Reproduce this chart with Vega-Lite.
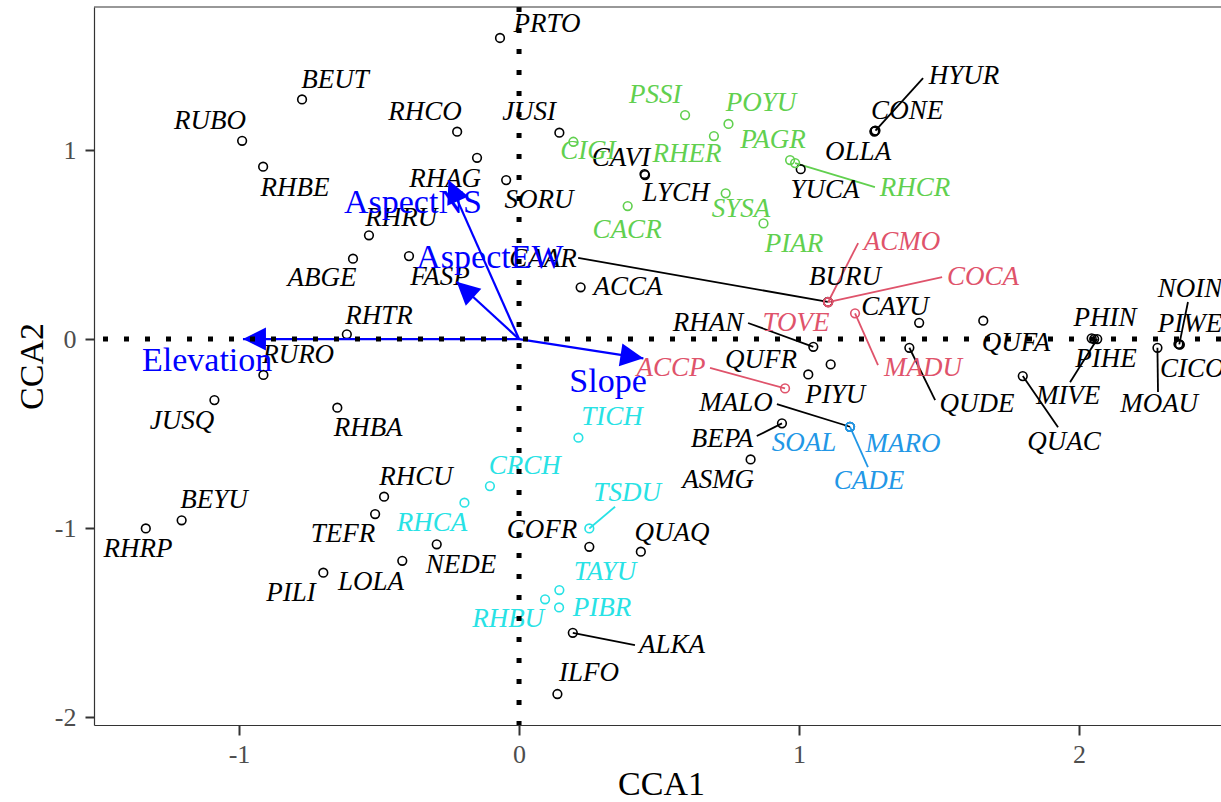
{
  "$schema": "https://vega.github.io/schema/vega-lite/v6.json",
  "autosize": {"type": "none"},
  "padding": {"left": 94, "top": 7, "right": 0, "bottom": 77},
  "width": 1127,
  "height": 718,
  "background": "white",
  "config": {
    "view": {"stroke": null},
    "axis": {
      "grid": false,
      "domainColor": "#333333",
      "domainWidth": 1.2,
      "tickColor": "#333333",
      "tickWidth": 2,
      "labelFont": "Liberation Serif",
      "labelFontSize": 26,
      "labelColor": "#4D4D4D",
      "titleFont": "Liberation Serif",
      "titleFontSize": 34,
      "titleFontWeight": "normal",
      "titleColor": "#000000"
    }
  },
  "datasets": {
    "sp": [
      {"n":"PRTO","g":"k","x":-0.068,"y":1.593,"lx":0.100,"ly":1.667},
      {"n":"BEUT","g":"k","x":-0.775,"y":1.268,"lx":-0.657,"ly":1.370},
      {"n":"RUBO","g":"k","x":-0.989,"y":1.049,"lx":-1.104,"ly":1.153},
      {"n":"RHBE","g":"k","x":-0.914,"y":0.912,"lx":-0.800,"ly":0.799},
      {"n":"RHCO","g":"k","x":-0.221,"y":1.097,"lx":-0.336,"ly":1.201},
      {"n":"RHAG","g":"k","x":-0.150,"y":0.959,"lx":-0.264,"ly":0.847},
      {"n":"SORU","g":"k","x":-0.046,"y":0.841,"lx":0.071,"ly":0.735},
      {"n":"RHRU","g":"k","x":-0.536,"y":0.549,"lx":-0.421,"ly":0.640},
      {"n":"ABGE","g":"k","x":-0.593,"y":0.425,"lx":-0.704,"ly":0.323},
      {"n":"FASP","g":"k","x":-0.393,"y":0.439,"lx":-0.282,"ly":0.328},
      {"n":"RHTR","g":"k","x":-0.615,"y":0.025,"lx":-0.500,"ly":0.122},
      {"n":"RURO","g":"k","x":-0.913,"y":-0.190,"lx":-0.789,"ly":-0.085},
      {"n":"JUSI","g":"k","x":0.144,"y":1.092,"lx":0.036,"ly":1.201},
      {"n":"CAVI","g":"k","x":0.448,"y":0.873,"lx":0.364,"ly":0.958},
      {"n":"LYCH","g":"k","x":0.450,"y":0.868,"lx":0.561,"ly":0.772},
      {"n":"CONE","g":"k","x":1.271,"y":1.101,"lx":1.386,"ly":1.206},
      {"n":"OLLA","g":"k","x":1.269,"y":1.098,"lx":1.211,"ly":0.989},
      {"n":"HYUR","g":"k","x":1.273,"y":1.103,"lx":1.589,"ly":1.392,"sx":1.443,"sy":1.381},
      {"n":"YUCA","g":"k","x":1.006,"y":0.899,"lx":1.093,"ly":0.788},
      {"n":"ACCA","g":"k","x":0.220,"y":0.274,"lx":0.389,"ly":0.275},
      {"n":"CAAR","g":"k","x":1.103,"y":0.197,"lx":0.086,"ly":0.423,"sx":0.211,"sy":0.429},
      {"n":"BURU","g":"k","x":1.104,"y":0.196,"lx":1.164,"ly":0.328},
      {"n":"CAYU","g":"k","x":1.429,"y":0.086,"lx":1.343,"ly":0.169},
      {"n":"QUFA","g":"k","x":1.658,"y":0.097,"lx":1.775,"ly":-0.021},
      {"n":"QUDE","g":"k","x":1.394,"y":-0.046,"lx":1.636,"ly":-0.344,"sx":1.486,"sy":-0.323},
      {"n":"PHIN","g":"k","x":2.045,"y":0.004,"lx":2.093,"ly":0.111},
      {"n":"PIHE","g":"k","x":2.054,"y":0.0,"lx":2.096,"ly":-0.106},
      {"n":"MIVE","g":"k","x":2.065,"y":0.0,"lx":1.961,"ly":-0.302,"sx":1.968,"sy":-0.228},
      {"n":"QUAC","g":"k","x":1.799,"y":-0.196,"lx":1.946,"ly":-0.545,"sx":1.925,"sy":-0.466},
      {"n":"MOAU","g":"k","x":2.280,"y":-0.046,"lx":2.286,"ly":-0.344,"sx":2.282,"sy":-0.280},
      {"n":"NOIN","g":"k","x":2.358,"y":-0.028,"lx":2.396,"ly":0.265,"sx":2.389,"sy":0.196},
      {"n":"PIWE","g":"k","x":2.360,"y":-0.030,"lx":2.396,"ly":0.079},
      {"n":"CICO","g":"k","x":2.355,"y":-0.026,"lx":2.404,"ly":-0.159},
      {"n":"RHAN","g":"k","x":1.051,"y":-0.041,"lx":0.675,"ly":0.085,"sx":0.818,"sy":0.085},
      {"n":"QUFR","g":"k","x":1.033,"y":-0.187,"lx":0.864,"ly":-0.111},
      {"n":"PIYU","g":"k","x":1.113,"y":-0.134,"lx":1.129,"ly":-0.296},
      {"n":"MALO","g":"k","x":1.182,"y":-0.464,"lx":0.775,"ly":-0.339,"sx":0.921,"sy":-0.344},
      {"n":"BEPA","g":"k","x":0.939,"y":-0.446,"lx":0.725,"ly":-0.529,"sx":0.849,"sy":-0.513},
      {"n":"ASMG","g":"k","x":0.827,"y":-0.637,"lx":0.711,"ly":-0.746},
      {"n":"COFR","g":"k","x":0.251,"y":-1.099,"lx":0.082,"ly":-1.011},
      {"n":"QUAQ","g":"k","x":0.435,"y":-1.125,"lx":0.546,"ly":-1.026},
      {"n":"ALKA","g":"k","x":0.192,"y":-1.554,"lx":0.546,"ly":-1.619,"sx":0.414,"sy":-1.619},
      {"n":"ILFO","g":"k","x":0.137,"y":-1.878,"lx":0.250,"ly":-1.767},
      {"n":"JUSQ","g":"k","x":-1.088,"y":-0.323,"lx":-1.204,"ly":-0.434},
      {"n":"RHBA","g":"k","x":-0.649,"y":-0.363,"lx":-0.539,"ly":-0.471},
      {"n":"RHCU","g":"k","x":-0.482,"y":-0.834,"lx":-0.368,"ly":-0.730},
      {"n":"TEFR","g":"k","x":-0.514,"y":-0.926,"lx":-0.629,"ly":-1.032},
      {"n":"NEDE","g":"k","x":-0.294,"y":-1.086,"lx":-0.207,"ly":-1.196},
      {"n":"LOLA","g":"k","x":-0.417,"y":-1.173,"lx":-0.529,"ly":-1.286},
      {"n":"PILI","g":"k","x":-0.699,"y":-1.236,"lx":-0.814,"ly":-1.344},
      {"n":"BEYU","g":"k","x":-1.205,"y":-0.959,"lx":-1.089,"ly":-0.852},
      {"n":"RHRP","g":"k","x":-1.333,"y":-1.002,"lx":-1.361,"ly":-1.111},
      {"n":"PSSI","g":"g","x":0.593,"y":1.185,"lx":0.486,"ly":1.291},
      {"n":"POYU","g":"g","x":0.748,"y":1.138,"lx":0.864,"ly":1.249},
      {"n":"RHER","g":"g","x":0.696,"y":1.074,"lx":0.600,"ly":0.979},
      {"n":"CIGI","g":"g","x":0.194,"y":1.044,"lx":0.246,"ly":0.995},
      {"n":"PAGR","g":"g","x":0.968,"y":0.947,"lx":0.907,"ly":1.053},
      {"n":"RHCR","g":"g","x":0.986,"y":0.931,"lx":1.414,"ly":0.799,"sx":1.271,"sy":0.804},
      {"n":"SYSA","g":"g","x":0.738,"y":0.771,"lx":0.793,"ly":0.688},
      {"n":"PIAR","g":"g","x":0.873,"y":0.612,"lx":0.982,"ly":0.503},
      {"n":"CACR","g":"g","x":0.388,"y":0.704,"lx":0.386,"ly":0.577},
      {"n":"ACMO","g":"r","x":1.104,"y":0.196,"lx":1.368,"ly":0.515,"sx":1.211,"sy":0.508},
      {"n":"COCA","g":"r","x":1.104,"y":0.196,"lx":1.657,"ly":0.328,"sx":1.511,"sy":0.328},
      {"n":"TOVE","g":"r","x":1.104,"y":0.196,"lx":0.989,"ly":0.085},
      {"n":"MADU","g":"r","x":1.200,"y":0.136,"lx":1.443,"ly":-0.153,"sx":1.282,"sy":-0.138},
      {"n":"ACCP","g":"r","x":0.950,"y":-0.261,"lx":0.543,"ly":-0.153,"sx":0.682,"sy":-0.153},
      {"n":"TICH","g":"c","x":0.212,"y":-0.522,"lx":0.332,"ly":-0.413},
      {"n":"CRCH","g":"c","x":-0.104,"y":-0.778,"lx":0.020,"ly":-0.672},
      {"n":"RHCA","g":"c","x":-0.195,"y":-0.866,"lx":-0.311,"ly":-0.974},
      {"n":"TSDU","g":"c","x":0.251,"y":-1.002,"lx":0.386,"ly":-0.815,"sx":0.343,"sy":-0.887},
      {"n":"TAYU","g":"c","x":0.144,"y":-1.328,"lx":0.307,"ly":-1.233},
      {"n":"PIBR","g":"c","x":0.143,"y":-1.420,"lx":0.296,"ly":-1.423},
      {"n":"RHBU","g":"c","x":0.093,"y":-1.377,"lx":-0.039,"ly":-1.481},
      {"n":"SOAL","g":"b","x":1.182,"y":-0.464,"lx":1.018,"ly":-0.550},
      {"n":"MARO","g":"b","x":1.182,"y":-0.464,"lx":1.371,"ly":-0.556},
      {"n":"CADE","g":"b","x":1.182,"y":-0.464,"lx":1.250,"ly":-0.751,"sx":1.246,"sy":-0.677}
    ],
    "arr": [
      {"n":"Elevation","x0":0,"y0":0,"x":-0.986,"y":0,"lx":-1.114,"ly":-0.116},
      {"n":"AspectNS","x0":0,"y0":0,"x":-0.252,"y":0.841,"lx":-0.379,"ly":0.722},
      {"n":"AspectEW","x0":0,"y0":0,"x":-0.223,"y":0.303,"lx":-0.104,"ly":0.431},
      {"n":"Slope","x0":0,"y0":0,"x":0.444,"y":-0.102,"lx":0.318,"ly":-0.226}
    ]
  },
  "layer": [
    {
      "data": {"name": "sp"},
      "transform": [{"filter": "isValid(datum.sx)"}],
      "mark": {"type": "rule", "strokeWidth": 1.8},
      "encoding": {
        "x": {"field": "x", "type": "quantitative", "scale": {"domain": [-1.518, 2.507], "nice": false, "zero": false},
          "axis": {"orient": "bottom", "values": [-1, 0, 1, 2], "labelExpr": "'' + datum.value", "title": "CCA1", "tickSize": 10, "labelPadding": 6,
            "titleX": 567, "titleY": 69, "titleBaseline": "alphabetic", "titleAnchor": "start", "titleAlign": "center"}},
        "y": {"field": "y", "type": "quantitative", "scale": {"domain": [-2.042, 1.757], "nice": false, "zero": false},
          "axis": {"values": [-2, -1, 0, 1], "labelExpr": "'' + datum.value", "title": "CCA2", "tickSize": 9, "labelPadding": 9,
            "titleX": -52, "titleBaseline": "alphabetic"}},
        "x2": {"field": "sx"},
        "y2": {"field": "sy"},
        "color": {"field": "g", "type": "nominal", "legend": null,
          "scale": {"domain": ["k", "g", "r", "c", "b"], "range": ["#000000", "#61D04F", "#DF536B", "#28E2E5", "#2297E6"]}}
      }
    },
    {
      "data": {"name": "sp"},
      "mark": {"type": "point", "shape": "circle", "filled": false, "size": 75, "strokeWidth": 1.6, "opacity": 1},
      "encoding": {
        "x": {"field": "x", "type": "quantitative"},
        "y": {"field": "y", "type": "quantitative"},
        "color": {"field": "g", "type": "nominal", "legend": null}
      }
    },
    {
      "data": {"name": "sp"},
      "mark": {"type": "text", "font": "Liberation Serif", "fontStyle": "italic", "fontSize": 27, "align": "center", "baseline": "middle"},
      "encoding": {
        "x": {"field": "lx", "type": "quantitative"},
        "y": {"field": "ly", "type": "quantitative"},
        "text": {"field": "n"},
        "color": {"field": "g", "type": "nominal", "legend": null}
      }
    },
    {
      "data": {"name": "arr"},
      "mark": {"type": "rule", "color": "#0000FF", "strokeWidth": 2.2},
      "encoding": {
        "x": {"field": "x0", "type": "quantitative"},
        "y": {"field": "y0", "type": "quantitative"},
        "x2": {"field": "x"},
        "y2": {"field": "y"}
      }
    },
    {
      "data": {"name": "arr"},
      "transform": [{"calculate": "((atan2(datum.x * 280, datum.y * 189) * 180 / PI) + 360) % 360", "as": "ang"}],
      "mark": {"type": "point", "shape": "M0,0L-0.5,1L0.5,1Z", "filled": true, "color": "#0000FF", "size": 2116, "opacity": 1, "strokeWidth": 0},
      "encoding": {
        "x": {"field": "x", "type": "quantitative"},
        "y": {"field": "y", "type": "quantitative"},
        "angle": {"field": "ang", "type": "quantitative", "scale": {"type": "linear", "domain": [0, 360], "range": [0, 360], "zero": false, "nice": false}, "legend": null}
      }
    },
    {
      "data": {"name": "arr"},
      "mark": {"type": "text", "font": "Liberation Serif", "fontSize": 34, "color": "#0000FF", "align": "center", "baseline": "middle"},
      "encoding": {
        "x": {"field": "lx", "type": "quantitative"},
        "y": {"field": "ly", "type": "quantitative"},
        "text": {"field": "n"}
      }
    },
    {
      "data": {"values": [{"v": 0}]},
      "mark": {"type": "rule", "color": "#000000", "strokeWidth": 5, "strokeDash": [5, 16], "strokeCap": "butt"},
      "encoding": {
        "x": {"field": "v", "type": "quantitative"}
      }
    },
    {
      "data": {"values": [{"v": 0}]},
      "mark": {"type": "rule", "color": "#000000", "strokeWidth": 5, "strokeDash": [5, 16], "strokeCap": "butt"},
      "encoding": {
        "y": {"field": "v", "type": "quantitative"}
      }
    },
    {
      "data": {"values": [{"v": 1.757}]},
      "mark": {"type": "rule", "color": "#333333", "strokeWidth": 1.2},
      "encoding": {
        "y": {"field": "v", "type": "quantitative"}
      }
    }
  ]
}
